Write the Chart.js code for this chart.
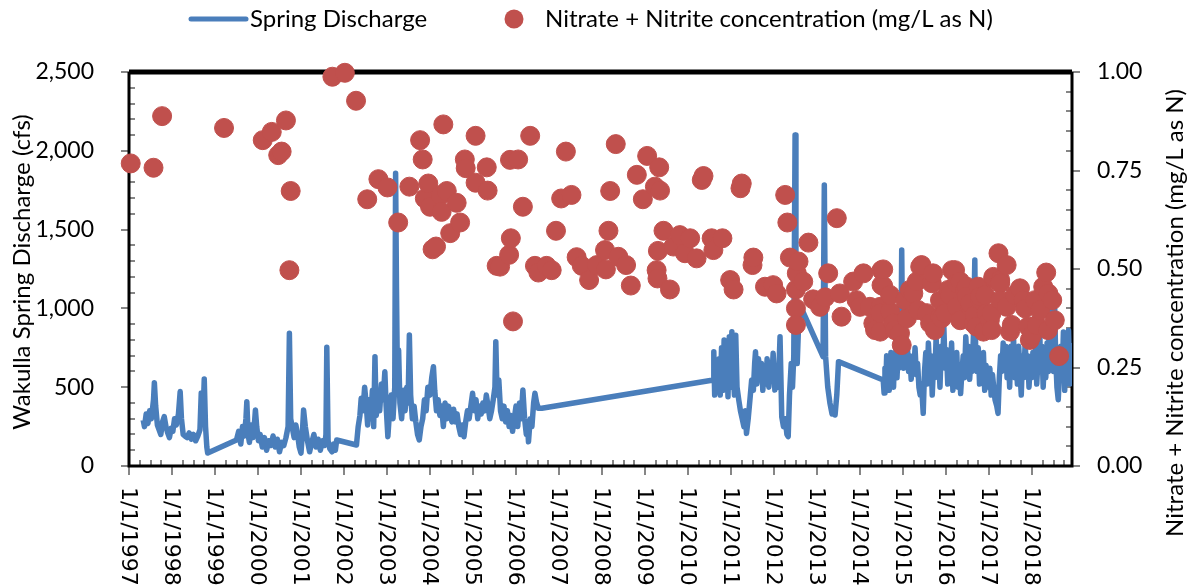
<!DOCTYPE html>
<html>
<head>
<meta charset="utf-8"/>
<title>Wakulla Spring discharge and nitrate</title>
<script src="https://cdn.jsdelivr.net/npm/chart.js@4.4.0/dist/chart.umd.min.js"></script>
<style>
  body { margin: 0; background: #fff; }
</style>
</head>
<body>
<canvas id="chart" width="1188" height="587"></canvas>
<script>
// x values are decimal years (1997.5 = mid 1997)
var yearLabels = [1997, 1998, 1999, 2000, 2001, 2002, 2003, 2004, 2005, 2006, 2007,
  2008, 2009, 2010, 2011, 2012, 2013, 2014, 2015, 2016, 2017, 2018];

var dischargeDates = [
  1997.33, 1997.36, 1997.40, 1997.44, 1997.48, 1997.52, 1997.57, 1997.59, 1997.62, 1997.66,
  1997.70, 1997.74, 1997.78, 1997.82, 1997.86, 1997.90, 1997.94, 1997.98, 1998.02, 1998.06,
  1998.10, 1998.15, 1998.19, 1998.22, 1998.26, 1998.30, 1998.35, 1998.40, 1998.45, 1998.50,
  1998.55, 1998.60, 1998.65, 1998.68, 1998.72, 1998.75, 1998.78, 1998.81, 1998.83,
  1999.50, 1999.55, 1999.60, 1999.64, 1999.68, 1999.72, 1999.74, 1999.77, 1999.80, 1999.84,
  1999.88, 1999.92, 1999.94, 1999.97, 2000.01, 2000.05, 2000.10, 2000.15, 2000.20, 2000.25,
  2000.30, 2000.35, 2000.40, 2000.45, 2000.50, 2000.55, 2000.60, 2000.65, 2000.70, 2000.73,
  2000.76, 2000.80, 2000.84, 2000.88, 2000.92, 2000.96, 2001.00, 2001.03, 2001.06, 2001.10,
  2001.15, 2001.20, 2001.25, 2001.30, 2001.35, 2001.40, 2001.45, 2001.50, 2001.55, 2001.58,
  2001.60, 2001.63, 2001.67, 2001.72, 2001.76, 2001.80, 2001.83,
  2002.29, 2002.33, 2002.37, 2002.40, 2002.44, 2002.48, 2002.52, 2002.55, 2002.58, 2002.62,
  2002.66, 2002.69, 2002.72, 2002.75, 2002.79, 2002.83, 2002.87, 2002.91, 2002.95, 2002.98,
  2003.02, 2003.06, 2003.10, 2003.14, 2003.18, 2003.20, 2003.22, 2003.24, 2003.27, 2003.30,
  2003.34, 2003.38, 2003.42, 2003.46, 2003.49, 2003.52, 2003.55, 2003.59, 2003.63, 2003.67,
  2003.71, 2003.75, 2003.79, 2003.83, 2003.87, 2003.91, 2003.95, 2004.00, 2004.04, 2004.08,
  2004.11, 2004.15, 2004.19, 2004.23, 2004.27, 2004.31, 2004.35, 2004.39, 2004.43, 2004.47,
  2004.51, 2004.55, 2004.59, 2004.63, 2004.67, 2004.71, 2004.75, 2004.79, 2004.83, 2004.87,
  2004.91, 2004.95, 2004.99, 2005.03, 2005.07, 2005.11, 2005.15, 2005.19, 2005.23, 2005.27,
  2005.31, 2005.35, 2005.39, 2005.43, 2005.47, 2005.51, 2005.53, 2005.56, 2005.60, 2005.64,
  2005.68, 2005.72, 2005.76, 2005.80, 2005.84, 2005.88, 2005.92, 2005.96, 2006.00, 2006.04,
  2006.08, 2006.12, 2006.16, 2006.20, 2006.24, 2006.27, 2006.29, 2006.33, 2006.37, 2006.41,
  2006.44, 2006.48, 2006.52, 2006.60,
  2010.59, 2010.60, 2010.62, 2010.65, 2010.68, 2010.72, 2010.75, 2010.78, 2010.81, 2010.84,
  2010.87, 2010.90, 2010.93, 2010.96, 2010.99, 2011.02, 2011.05, 2011.08, 2011.11, 2011.14,
  2011.18, 2011.22, 2011.26, 2011.30, 2011.33, 2011.36, 2011.40, 2011.44, 2011.48, 2011.52,
  2011.55, 2011.57, 2011.60, 2011.64, 2011.67, 2011.71, 2011.74, 2011.77, 2011.81, 2011.84,
  2011.88, 2011.91, 2011.95, 2011.98, 2012.02, 2012.06, 2012.10, 2012.14, 2012.18, 2012.22,
  2012.26, 2012.30, 2012.33, 2012.36, 2012.40, 2012.43, 2012.46, 2012.49, 2012.51, 2012.54,
  2012.57, 2012.62, 2013.14, 2013.17, 2013.20, 2013.25, 2013.30, 2013.35, 2013.40, 2013.42,
  2013.46, 2013.50,
  2014.54, 2014.56, 2014.58, 2014.60, 2014.62, 2014.64, 2014.66, 2014.68, 2014.70, 2014.72,
  2014.74, 2014.76, 2014.78, 2014.80, 2014.82, 2014.84, 2014.86, 2014.88, 2014.90, 2014.93,
  2014.95, 2014.97, 2014.99, 2015.01, 2015.04, 2015.07, 2015.10, 2015.13, 2015.16, 2015.19,
  2015.22, 2015.25, 2015.28, 2015.31, 2015.34, 2015.37, 2015.40, 2015.43, 2015.47, 2015.50,
  2015.53, 2015.56, 2015.59, 2015.62, 2015.65, 2015.68, 2015.71, 2015.74, 2015.77, 2015.80,
  2015.83, 2015.86, 2015.89, 2015.92, 2015.95, 2015.98, 2016.01, 2016.04, 2016.07, 2016.10,
  2016.13, 2016.16, 2016.19, 2016.22, 2016.25, 2016.28, 2016.31, 2016.34, 2016.37, 2016.40,
  2016.43, 2016.46, 2016.49, 2016.52, 2016.55, 2016.58, 2016.61, 2016.64, 2016.67, 2016.69,
  2016.72, 2016.75, 2016.78, 2016.81, 2016.84, 2016.87, 2016.90, 2016.93, 2016.96, 2016.99,
  2017.02, 2017.05, 2017.08, 2017.11, 2017.14, 2017.18, 2017.21, 2017.24, 2017.27, 2017.30,
  2017.33, 2017.36, 2017.39, 2017.42, 2017.45, 2017.48, 2017.51, 2017.54, 2017.57, 2017.60,
  2017.63, 2017.66, 2017.69, 2017.72, 2017.75, 2017.78, 2017.81, 2017.84, 2017.87, 2017.90,
  2017.93, 2017.96, 2017.99, 2018.02, 2018.05, 2018.08, 2018.11, 2018.14, 2018.17, 2018.20,
  2018.23, 2018.26, 2018.29, 2018.32, 2018.35, 2018.38, 2018.41, 2018.44, 2018.47, 2018.50,
  2018.52, 2018.55, 2018.58, 2018.61, 2018.64, 2018.67, 2018.70, 2018.73, 2018.76, 2018.79,
  2018.82, 2018.85, 2018.88, 2018.91
];

var dischargeCfs = [
  292, 250, 330, 270, 350, 300, 420, 529, 380, 260,
  230, 200, 280, 313, 250, 210, 180, 240, 220, 300,
  260, 330, 472, 300, 200, 190, 180, 210, 170, 200,
  160, 190, 230, 463, 300, 552, 250, 120, 82,
  165, 220, 140, 250, 190, 300, 408, 200, 150, 260,
  180, 280, 355, 250, 160, 200, 120, 180, 100, 160,
  130, 190, 120, 170, 90, 150, 130, 180, 250, 842,
  300, 240, 180, 260, 200, 120, 82, 200, 355, 250,
  160, 90, 150, 200, 120, 170, 100, 160, 130, 200,
  753, 160, 110, 90, 140, 100, 165,
  133, 250, 320, 430, 350, 500, 380, 260, 420, 300,
  480, 250, 694, 320, 450, 350, 520, 420, 598, 380,
  186, 350, 450, 300, 500, 1857, 1138, 600, 736, 400,
  300, 480, 350, 500, 400, 831, 450, 300, 380, 280,
  200, 165, 250, 300, 420, 350, 500, 450, 560, 630,
  480, 350, 420, 320, 380, 250, 400, 300, 380, 320,
  280, 360, 280, 330, 250, 200, 260, 186, 280, 350,
  300, 380, 461, 350, 420, 300, 380, 330, 400, 350,
  450, 380, 300, 350, 420, 500, 789, 450, 546, 350,
  300, 380, 280, 350, 250, 320, 220, 300, 380, 250,
  400, 300, 482, 300, 200, 250, 154, 300, 250, 400,
  461, 400, 366, 366,
  546, 725, 450, 600, 520, 680, 450, 750, 480, 800,
  520, 700, 440, 820, 500, 852, 600, 450, 830, 500,
  420, 350, 300, 250, 350, 207, 300, 420, 546, 480,
  650, 725, 520, 680, 560, 650, 480, 620, 520, 680,
  500, 640, 560, 715, 482, 600, 500, 820, 313, 250,
  300, 200, 186, 450, 650, 500, 700, 2100, 900, 650,
  884, 1011, 694, 1783, 694, 500, 400, 330, 350, 324,
  450, 662,
  546, 463, 620, 520, 700, 560, 650, 480, 600, 720,
  550, 640, 500, 700, 600, 760, 560, 680, 620, 1074,
  700, 1370, 800, 620, 740, 650, 780, 600, 700, 550,
  680, 600, 750, 580, 650, 500, 450, 520, 334, 600,
  720, 520, 780, 620, 700, 450, 650, 560, 820, 600,
  700, 500, 760, 640, 880, 620, 740, 520, 700, 600,
  780, 480, 650, 560, 720, 500, 640, 460, 600, 700,
  560, 820, 640, 760, 550, 680, 600, 850, 1307, 700,
  600, 750, 520, 680, 600, 720, 480, 640, 560, 500,
  620, 450, 580, 500, 420, 380, 334, 560, 700, 600,
  780, 640, 760, 560, 700, 500, 760, 600, 820, 560,
  700, 520, 760, 600, 450, 700, 560, 780, 620, 700,
  500, 650, 560, 720, 600, 750, 520, 680, 970, 620,
  760, 500, 700, 560, 780, 600, 1074, 650, 800, 600,
  1096, 700, 500, 420, 600, 760, 560, 850, 480, 700,
  620, 860, 520, 780
];

var nitrateDates = [
  1997.04, 1997.57, 1997.77, 1999.21, 2000.11, 2000.32, 2000.47, 2000.55, 2000.65, 2000.73,
  2000.76, 2001.73, 2002.02, 2002.28, 2002.54, 2002.80, 2003.01, 2003.26, 2003.52, 2003.77,
  2003.83, 2003.88, 2003.96, 2004.00, 2004.06, 2004.14, 2004.25, 2004.27, 2004.31, 2004.39,
  2004.47, 2004.62, 2004.70, 2004.81, 2004.83, 2005.06, 2005.06, 2005.32, 2005.34, 2005.55,
  2005.63, 2005.84, 2005.86, 2005.88, 2005.93, 2006.05, 2006.16, 2006.33, 2006.44, 2006.52,
  2006.71, 2006.83, 2006.93, 2007.05, 2007.16, 2007.29, 2007.41, 2007.53, 2007.70, 2007.88,
  2008.07, 2008.09, 2008.15, 2008.19, 2008.32, 2008.38, 2008.56, 2008.67, 2008.81, 2008.95,
  2009.05, 2009.23, 2009.27, 2009.29, 2009.30, 2009.33, 2009.35, 2009.43, 2009.58, 2009.66,
  2009.81, 2009.93, 2010.05, 2010.20, 2010.32, 2010.36, 2010.55, 2010.59, 2010.80, 2010.98,
  2011.06, 2011.22, 2011.25, 2011.50, 2011.52, 2011.79, 2011.98, 2012.06, 2012.26, 2012.31,
  2012.37, 2012.51, 2012.51, 2012.51, 2012.53, 2012.57, 2012.68, 2012.80, 2012.91, 2013.07,
  2013.19, 2013.26, 2013.46, 2013.53, 2013.57, 2013.84, 2013.92, 2014.00, 2014.08, 2014.23,
  2014.31, 2014.35, 2014.47, 2014.47, 2014.47, 2014.50, 2014.50, 2014.54, 2014.54, 2014.70,
  2014.70, 2014.77, 2014.81, 2014.93, 2014.97, 2015.05, 2015.09, 2015.16, 2015.24, 2015.32,
  2015.35, 2015.40, 2015.43, 2015.55, 2015.63, 2015.67, 2015.70, 2015.74, 2015.86, 2015.86,
  2015.90, 2015.98, 2016.05, 2016.09, 2016.14, 2016.21, 2016.25, 2016.25, 2016.33, 2016.33,
  2016.44, 2016.48, 2016.48, 2016.56, 2016.56, 2016.64, 2016.67, 2016.71, 2016.75, 2016.79,
  2016.79, 2016.87, 2016.91, 2016.94, 2017.02, 2017.06, 2017.06, 2017.10, 2017.10, 2017.22,
  2017.26, 2017.26, 2017.26, 2017.41, 2017.41, 2017.49, 2017.53, 2017.60, 2017.72, 2017.80,
  2017.84, 2017.91, 2017.95, 2018.00, 2018.07, 2018.11, 2018.19, 2018.26, 2018.33, 2018.37,
  2018.38, 2018.47, 2018.53, 2018.63
];

var nitrateConc = [
  0.768, 0.757, 0.888, 0.858, 0.827, 0.848, 0.789, 0.798, 0.877, 0.497,
  0.698, 0.988, 0.998, 0.927, 0.677, 0.728, 0.707, 0.618, 0.709, 0.827,
  0.778, 0.679, 0.717, 0.658, 0.550, 0.557, 0.688, 0.645, 0.867, 0.698,
  0.591, 0.668, 0.618, 0.778, 0.756, 0.838, 0.719, 0.758, 0.699, 0.508,
  0.506, 0.536, 0.777, 0.578, 0.367, 0.778, 0.658, 0.838, 0.508, 0.491,
  0.508, 0.497, 0.597, 0.679, 0.798, 0.688, 0.530, 0.508, 0.472, 0.510,
  0.548, 0.499, 0.597, 0.698, 0.817, 0.531, 0.510, 0.458, 0.739, 0.677,
  0.787, 0.709, 0.497, 0.476, 0.546, 0.758, 0.699, 0.597, 0.448, 0.557,
  0.586, 0.540, 0.578, 0.527, 0.726, 0.736, 0.578, 0.548, 0.578, 0.472,
  0.448, 0.705, 0.717, 0.510, 0.529, 0.455, 0.459, 0.438, 0.688, 0.618,
  0.529, 0.448, 0.400, 0.358, 0.489, 0.519, 0.468, 0.567, 0.423, 0.404,
  0.428, 0.489, 0.629, 0.438, 0.379, 0.468, 0.421, 0.404, 0.489, 0.404,
  0.362, 0.345, 0.404, 0.388, 0.341, 0.497, 0.459, 0.457, 0.499, 0.392,
  0.434, 0.362, 0.345, 0.337, 0.307, 0.421, 0.375, 0.447, 0.438, 0.468,
  0.396, 0.506, 0.510, 0.388, 0.362, 0.464, 0.489, 0.345, 0.379, 0.421,
  0.375, 0.388, 0.447, 0.434, 0.497, 0.497, 0.404, 0.464, 0.468, 0.370,
  0.447, 0.455, 0.430, 0.404, 0.413, 0.362, 0.383, 0.354, 0.455, 0.421,
  0.430, 0.341, 0.434, 0.388, 0.370, 0.388, 0.345, 0.476, 0.480, 0.540,
  0.472, 0.464, 0.421, 0.510, 0.404, 0.341, 0.358, 0.434, 0.451, 0.421,
  0.400, 0.354, 0.320, 0.332, 0.421, 0.358, 0.396, 0.455, 0.491, 0.345,
  0.438, 0.421, 0.370, 0.279
];

var blue = '#4a7ebb';
var red = '#c0504d';
var tickGray = '#868686';
var textFont = 'Lato, "Open Sans", sans-serif';

function toPoints(xs, ys) {
  return xs.map(function (x, i) { return { x: x, y: ys[i] }; });
}

// frame, tick marks, rotated date labels, titles and legend
var decorations = {
  id: 'decorations',
  beforeDatasetsDraw: function (chart) {
    var ctx = chart.ctx, a = chart.chartArea;
    var x = chart.scales.x, y = chart.scales.y, y1 = chart.scales.y1;
    ctx.save();
    ctx.strokeStyle = tickGray;
    ctx.lineWidth = 2;
    ctx.beginPath();
    for (var v = 0; v <= 2500; v += 100) {
      var py = Math.round(y.getPixelForValue(v));
      if (v % 500 === 0) { ctx.moveTo(a.left - 8, py); ctx.lineTo(a.left, py); }
      else { ctx.moveTo(a.left, py); ctx.lineTo(a.left + 6, py); }
    }
    for (var k = 0; k <= 20; k++) {
      var py1 = Math.round(y1.getPixelForValue(k * 0.05));
      if (k % 5 === 0) { ctx.moveTo(a.right, py1); ctx.lineTo(a.right + 8, py1); }
      else { ctx.moveTo(a.right - 6, py1); ctx.lineTo(a.right, py1); }
    }
    for (var q = 1997; q <= x.max; q += 0.25) {
      var px = Math.round(x.getPixelForValue(q));
      if (q % 1 === 0) { ctx.moveTo(px, a.bottom); ctx.lineTo(px, a.bottom + 9); }
      else { ctx.moveTo(px, a.bottom - 6); ctx.lineTo(px, a.bottom); }
    }
    ctx.stroke();

    ctx.strokeStyle = '#000';
    ctx.lineWidth = 3;
    ctx.beginPath();
    ctx.moveTo(a.left, a.top); ctx.lineTo(a.left, a.bottom); ctx.lineTo(a.right, a.bottom); ctx.lineTo(a.right, a.top);
    ctx.stroke();
    ctx.lineWidth = 5;
    ctx.beginPath();
    ctx.moveTo(a.left, a.top); ctx.lineTo(a.right, a.top);
    ctx.stroke();
    ctx.restore();
  },
  afterDraw: function (chart) {
    var ctx = chart.ctx, a = chart.chartArea, x = chart.scales.x;
    ctx.save();
    ctx.fillStyle = '#000';

    // date labels, rotated clockwise
    ctx.font = '22px "DejaVu Sans"';
    ctx.textAlign = 'left';
    ctx.textBaseline = 'middle';
    yearLabels.forEach(function (yr) {
      ctx.save();
      ctx.translate(x.getPixelForValue(yr) - 1, a.bottom + 21);
      ctx.rotate(Math.PI / 2);
      ctx.fillText('1/1/' + yr, 0, 0);
      ctx.restore();
    });

    // axis titles, both read bottom to top
    ctx.font = '24px ' + textFont;
    ctx.textAlign = 'center';
    ctx.save();
    ctx.translate(22, 272);
    ctx.rotate(-Math.PI / 2);
    ctx.fillText('Wakulla Spring Discharge (cfs)', 0, 0);
    ctx.restore();
    ctx.save();
    ctx.translate(1175, 313);
    ctx.rotate(-Math.PI / 2);
    ctx.fillText('Nitrate + Nitrite concentration (mg/L as N)', 0, 0);
    ctx.restore();

    // legend
    ctx.font = '24px ' + textFont;
    ctx.textAlign = 'left';
    ctx.strokeStyle = blue;
    ctx.lineWidth = 5;
    ctx.lineCap = 'round';
    ctx.beginPath();
    ctx.moveTo(191, 19); ctx.lineTo(246, 19);
    ctx.stroke();
    ctx.fillText('Spring Discharge', 250, 19);
    ctx.fillStyle = red;
    ctx.beginPath();
    ctx.arc(514, 19, 9.5, 0, Math.PI * 2);
    ctx.fill();
    ctx.fillStyle = '#000';
    ctx.fillText('Nitrate + Nitrite concentration (mg/L as N)', 545, 19);
    ctx.restore();
  }
};

var ctx = document.getElementById('chart');
var myChart = new Chart(ctx, {
  type: 'scatter',
  data: {
    datasets: [{
      label: 'Nitrate + Nitrite concentration (mg/L as N)',
      data: toPoints(nitrateDates, nitrateConc),
      yAxisID: 'y1',
      backgroundColor: red,
      borderColor: red,
      borderWidth: 1,
      pointRadius: 9.5,
      showLine: false,
      clip: false,
      order: 0
    }, {
      label: 'Spring Discharge',
      data: toPoints(dischargeDates, dischargeCfs),
      yAxisID: 'y',
      showLine: true,
      borderColor: blue,
      borderWidth: 5.5,
      borderJoinStyle: 'round',
      pointRadius: 0,
      tension: 0,
      order: 1
    }]
  },
  options: {
    responsive: false,
    animation: false,
    layout: { padding: { top: 72, left: 0, right: 0, bottom: 0 }, autoPadding: false },
    plugins: { legend: { display: false }, tooltip: { enabled: false } },
    scales: {
      x: {
        type: 'linear',
        min: 1997,
        max: 2018.93,
        grid: { display: false },
        border: { display: false },
        ticks: { display: false },
        afterFit: function (s) { s.height = 121; }
      },
      y: {
        position: 'left',
        min: 0,
        max: 2500,
        grid: { display: false },
        border: { display: false },
        ticks: {
          stepSize: 500,
          padding: 27,
          color: '#000',
          font: { family: textFont, size: 23 },
          callback: function (v) { return v.toLocaleString('en-US'); }
        },
        afterFit: function (s) { s.width = 129; }
      },
      y1: {
        position: 'right',
        min: 0,
        max: 1,
        grid: { display: false },
        border: { display: false },
        ticks: {
          stepSize: 0.25,
          padding: 17,
          color: '#000',
          font: { family: textFont, size: 23 },
          callback: function (v) { return v.toFixed(2); }
        },
        afterFit: function (s) { s.width = 116; }
      }
    }
  },
  plugins: [decorations]
});
</script>
</body>
</html>
